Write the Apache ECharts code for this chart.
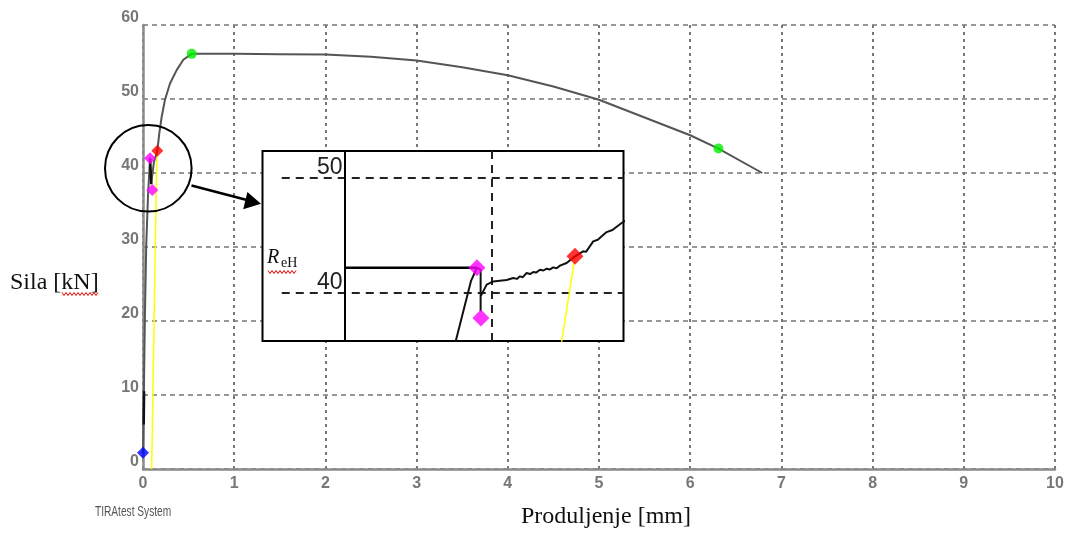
<!DOCTYPE html>
<html>
<head>
<meta charset="utf-8">
<script src="https://cdn.jsdelivr.net/npm/echarts@6/dist/echarts.min.js"></script>
<style>
html,body{margin:0;padding:0;background:#fff;}
#chart{width:1067px;height:533px;}
</style>
</head>
<body>
<div id="chart"></div>
<script>
// ---------- Main chart data (elongation mm, force kN) ----------
const xTickValues = [0,1,2,3,4,5,6,7,8,9,10];
const yTickValues = [0,10,20,30,40,50,60];
const forceCurve = [
  [0.0,2.2],[0.005,6],[0.01,10.5],[0.02,20],[0.035,30],[0.055,37],[0.077,42.0],
  [0.082,41.8],[0.09,38.5],[0.1,39.5],[0.12,41.5],[0.157,43.0],[0.179,45.4],
  [0.205,47.6],[0.241,49.9],[0.296,52.1],[0.369,53.9],[0.442,55.3],[0.534,56.1],
  [1.0,56.1],[1.5,56.05],[2.0,56.0],[2.5,55.7],[3.0,55.2],[3.5,54.3],[4.0,53.2],
  [4.5,51.7],[5.0,49.9],[5.5,47.5],[6.0,45.1],[6.31,43.3],[6.79,40.0]
];
const darkSegA = [[0.008,6],[0.012,10.5]];
const darkSegB = [[0.077,42.0],[0.082,41.8],[0.09,38.5]];
const yieldLine = [[0.095,0],[0.152,43.0]];
const bluePoint = [[0.0,2.2]];
const pinkPoints = [[0.077,42.0],[0.102,37.7]];
const redPoint = [[0.157,43.0]];
const greenPoints = [[0.534,56.1],[6.31,43.3]];

// ---------- Inset (zoom of upper yield point), y in kN ----------
const insetYTicks = [40,50];
const insetCurve = [
  [0.738,35.0],[0.857,41.0],[0.898,42.17],[0.923,42.0],[0.923,38.37],[0.923,39.68],
  [0.964,40.7],[1.009,40.98],[1.054,41.04],[1.1,41.1],[1.145,41.28],[1.17,41.2],[1.19,41.42],
  [1.21,41.35],[1.236,41.71],[1.26,41.62],[1.281,41.8],[1.3,41.75],[1.327,42.0],[1.35,41.93],
  [1.372,42.09],[1.395,42.02],[1.417,42.2],[1.44,42.13],[1.463,42.35],[1.508,42.58],[1.565,43.16],
  [1.62,43.6],[1.64,43.55],[1.689,44.46],[1.72,44.6],[1.78,45.27],[1.82,45.45],[1.882,46.06],[1.95,46.6]
];
const insetReH = [[0,42.17],[0.898,42.17]];
const insetYellow = [[1.465,35.0],[1.565,43.16]];
const insetPink = [[0.898,42.17],[0.925,37.8]];
const insetRed = [[1.565,43.16]];

const chart = echarts.init(document.getElementById('chart'), null, {renderer:'canvas'});

function squiggle(x0, x1, y){
  const pts = [];
  for (let x = x0, i = 0; x <= x1; x += 2, i++) pts.push([x, y + (i % 2 ? 1.5 : -1.5)]);
  return pts;
}

const tickFont = {color:'#777', fontFamily:'Liberation Sans', fontSize:16, fontWeight:'bold'};

const option = {
  backgroundColor:'#ffffff',
  animation:false,
  grid:[
    {left:143, top:25, right:12, bottom:64, containLabel:false, z:0},
    {left:262.5, top:151, width:361, height:190, show:true, backgroundColor:'#ffffff',
     borderColor:'#000', borderWidth:2, z:5}
  ],
  xAxis:[
    {type:'value', gridIndex:0, min:0, max:10, interval:1,
     axisLine:{show:true, onZero:false, lineStyle:{color:'#8a8a8a', width:2.5}},
     axisTick:{show:false},
     axisLabel:{...tickFont, margin:7, formatter:v=>xTickValues.includes(v)?String(v):''},
     splitLine:{show:true, lineStyle:{color:'#777', width:2, type:[3,4]}}},
    {type:'value', gridIndex:1, min:-0.561, max:1.895, show:false,
     splitLine:{show:false}}
  ],
  yAxis:[
    {type:'value', gridIndex:0, min:0, max:60, interval:10,
     axisLine:{show:true, onZero:false, lineStyle:{color:'#8a8a8a', width:2.5}},
     axisTick:{show:false},
     axisLabel:{...tickFont, margin:4, verticalAlign:'bottom', lineHeight:15,
                formatter:v=>yTickValues.includes(v)?String(v):''},
     splitLine:{show:true, lineStyle:{color:'#777', width:1.5, type:[5,4]}}},
    {type:'value', gridIndex:1, min:35.8, max:52.32, z:6,
     axisLine:{show:true, onZero:true, lineStyle:{color:'#000', width:2}},
     axisTick:{show:false},
     splitLine:{show:false},
     axisLabel:{show:true, customValues:insetYTicks, color:'#222',
                fontFamily:'Liberation Sans', fontSize:23,
                verticalAlign:'bottom', margin:-80, lineHeight:20}}
  ],
  series:[
    {type:'line', xAxisIndex:0, yAxisIndex:0, data:forceCurve, showSymbol:false,
     lineStyle:{color:'#555', width:2}, z:3},
    {type:'line', xAxisIndex:0, yAxisIndex:0, data:darkSegA, showSymbol:false,
     lineStyle:{color:'#111', width:2.5}, z:3},
    {type:'line', xAxisIndex:0, yAxisIndex:0, data:darkSegB, showSymbol:false,
     lineStyle:{color:'#111', width:2.5}, z:3},
    {type:'line', xAxisIndex:0, yAxisIndex:0, data:yieldLine, showSymbol:false,
     lineStyle:{color:'#ffff00', width:1.5}, z:2},
    {type:'scatter', xAxisIndex:0, yAxisIndex:0, data:bluePoint, symbol:'diamond',
     symbolSize:12, itemStyle:{color:'#0000ff'}, z:4},
    {type:'scatter', xAxisIndex:0, yAxisIndex:0, data:pinkPoints, symbol:'diamond',
     symbolSize:12, itemStyle:{color:'#ff00ff'}, z:4},
    {type:'scatter', xAxisIndex:0, yAxisIndex:0, data:redPoint, symbol:'diamond',
     symbolSize:12, itemStyle:{color:'#ff0000'}, z:4},
    {type:'scatter', xAxisIndex:0, yAxisIndex:0, data:greenPoints, symbol:'circle',
     symbolSize:10, itemStyle:{color:'#00ee00'}, z:4},

    // inset
    {type:'line', xAxisIndex:1, yAxisIndex:1, data:insetCurve, showSymbol:false,
     lineStyle:{color:'#111', width:2}, z:8, clip:true,
     markLine:{silent:true, symbol:'none', label:{show:false},
       lineStyle:{color:'#222', width:2, type:[8,6]},
       data:[
         [{coord:[-0.43,50]},{coord:[1.895,50]}],
         [{coord:[-0.43,40]},{coord:[1.895,40]}],
         {xAxis:1}
       ]}},
    {type:'line', xAxisIndex:1, yAxisIndex:1, data:insetReH, showSymbol:false,
     lineStyle:{color:'#000', width:2.5}, z:8},
    {type:'line', xAxisIndex:1, yAxisIndex:1, data:insetYellow, showSymbol:false,
     lineStyle:{color:'#ffff00', width:1.5}, z:7, clip:true},
    {type:'scatter', xAxisIndex:1, yAxisIndex:1, data:insetPink, symbol:'diamond',
     symbolSize:17, itemStyle:{color:'#ff00ff'}, z:9},
    {type:'scatter', xAxisIndex:1, yAxisIndex:1, data:insetRed, symbol:'diamond',
     symbolSize:17, itemStyle:{color:'#ff0000'}, z:9}
  ],
  graphic:[
    {type:'circle', shape:{cx:148.3, cy:168.3, r:43.3}, z:100,
     style:{fill:'none', stroke:'#000', lineWidth:2}},
    {type:'line', shape:{x1:191.5, y1:185.5, x2:246, y2:199.8}, z:100,
     style:{stroke:'#000', lineWidth:2.5}},
    {type:'polygon', shape:{points:[[261,203.7],[243.2,209.3],[247.4,191.9]]}, z:100,
     style:{fill:'#000'}},
    {type:'text', x:10, y:283, z:100,
     style:{text:'Sila [kN]', font:'24px "Liberation Serif"', fill:'#111',
            textVerticalAlign:'middle'}},
    {type:'polyline', shape:{points:squiggle(62,98,294)}, z:100,
     style:{stroke:'#e00', lineWidth:1, fill:'none'}},
    {type:'text', x:606, y:517, z:100,
     style:{text:'Produljenje [mm]', font:'24px "Liberation Serif"', fill:'#111',
            textAlign:'center', textVerticalAlign:'middle'}},
    {type:'text', x:95, y:512, z:100, scaleX:0.7,
     style:{text:'TIRAtest System', font:'14.5px "Liberation Sans"',
            fill:'#555', textVerticalAlign:'middle'}},
    {type:'text', x:267, y:258, z:100,
     style:{text:'R', font:'italic 20px "Liberation Serif"', fill:'#111',
            textVerticalAlign:'middle'}},
    {type:'text', x:281, y:263, z:100,
     style:{text:'eH', font:'14px "Liberation Serif"', fill:'#111',
            textVerticalAlign:'middle'}},
    {type:'polyline', shape:{points:squiggle(268,297,272)}, z:100,
     style:{stroke:'#e00', lineWidth:1, fill:'none'}}
  ]
};
chart.setOption(option);
</script>
</body>
</html>
